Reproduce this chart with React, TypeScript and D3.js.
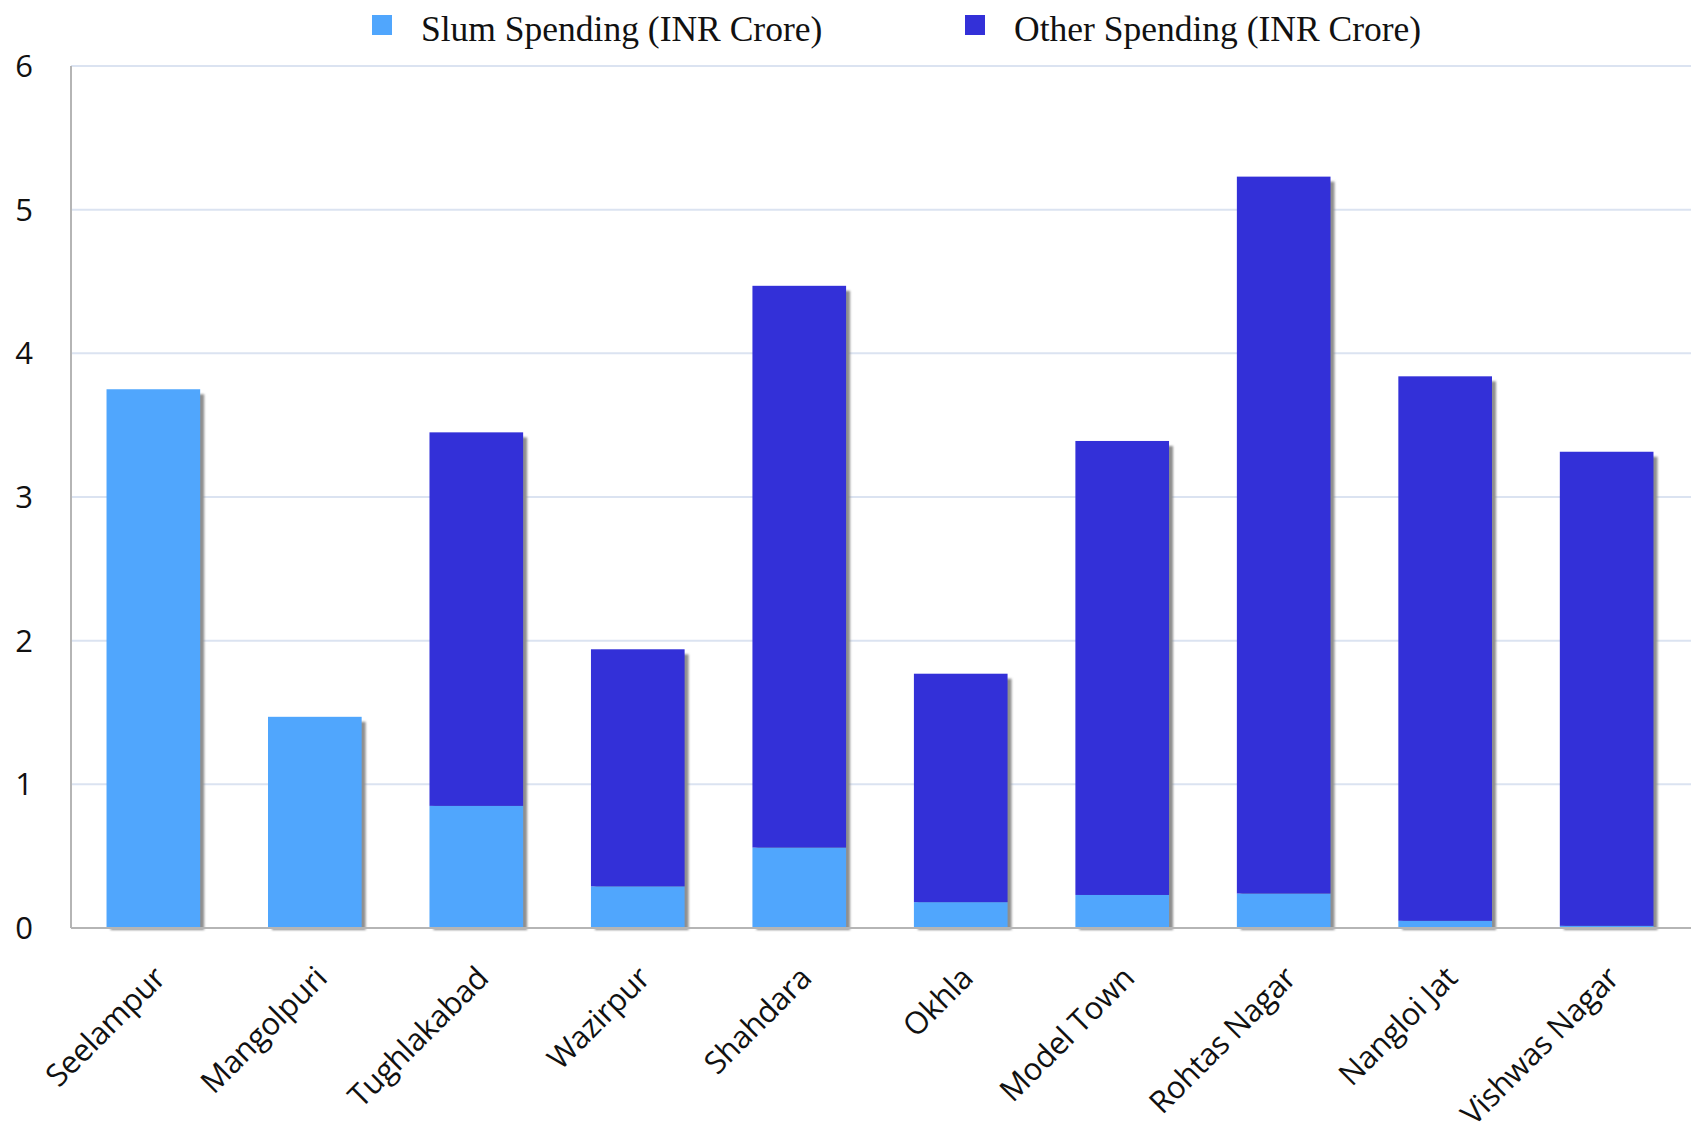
import React, { useEffect, useRef } from 'react';
import * as d3 from 'd3';

const districts: string[] = [
    "Seelampur",
    "Mangolpuri",
    "Tughlakabad",
    "Wazirpur",
    "Shahdara",
    "Okhla",
    "Model Town",
    "Rohtas Nagar",
    "Nangloi Jat",
    "Vishwas Nagar",
];
const slumSpending: number[] = [3.75, 1.47, 0.85, 0.29, 0.56, 0.18, 0.23, 0.24, 0.05, 0.015];
const otherSpending: number[] = [0, 0, 2.6, 1.65, 3.91, 1.59, 3.16, 4.99, 3.79, 3.3];
const yTicks: number[] = [0, 1, 2, 3, 4, 5, 6];
const seriesNames: string[] = ["Slum Spending (INR Crore)", "Other Spending (INR Crore)"];
const seriesColors: string[] = ["#50a6fd", "#3330d8"];

const App: React.FC = () => {
    const ref = useRef<SVGSVGElement | null>(null);

    useEffect(() => {
        const node = ref.current;
        if (!node) return;
        const width = 1691;
        const height = 1133;
        const margin = { top: 66, right: 2, bottom: 205, left: 71 };

        const svg = d3.select(node);
        svg.selectAll("*").remove();

        const x = d3
            .scaleBand<string>()
            .domain(districts)
            .range([margin.left, margin.left + 161.8 * districts.length])
            .paddingInner(0.42)
            .paddingOuter(0.22);

        const y = d3
            .scaleLinear()
            .domain([0, 6])
            .range([height - margin.bottom, margin.top]);

        const defs = svg.append("defs");
        defs.append("filter")
            .attr("id", "shadowBlur")
            .append("feGaussianBlur")
            .attr("stdDeviation", 1.2);

        // grid lines
        svg.append("g")
            .selectAll("line")
            .data(yTicks.filter((t) => t > 0))
            .enter()
            .append("line")
            .attr("x1", margin.left)
            .attr("x2", width)
            .attr("y1", (d) => y(d))
            .attr("y2", (d) => y(d))
            .attr("stroke", "#dbe3f1")
            .attr("stroke-width", 2);

        // y tick labels
        svg.append("g")
            .selectAll("text")
            .data(yTicks)
            .enter()
            .append("text")
            .attr("x", 33)
            .attr("y", (d) => y(d))
            .attr("dy", "0.36em")
            .attr("text-anchor", "end")
            .style("font-family", "'Open Sans', sans-serif")
            .style("font-size", "31px")
            .style("fill", "#111")
            .text((d) => d);

        const stacked = districts.map((name, i) => ({
            name,
            slum: slumSpending[i],
            other: otherSpending[i],
            total: slumSpending[i] + otherSpending[i],
        }));

        // shadows
        svg.append("g")
            .selectAll("rect")
            .data(stacked)
            .enter()
            .append("rect")
            .attr("x", (d) => (x(d.name) as number) + 4)
            .attr("y", (d) => y(d.total) + 5)
            .attr("width", x.bandwidth())
            .attr("height", (d) => y(0) - y(d.total) - 3)
            .attr("fill", "#8f8f8f")
            .attr("filter", "url(#shadowBlur)");

        // slum part
        svg.append("g")
            .selectAll("rect")
            .data(stacked)
            .enter()
            .append("rect")
            .attr("x", (d) => x(d.name) as number)
            .attr("y", (d) => y(d.slum))
            .attr("width", x.bandwidth())
            .attr("height", (d) => y(0) - y(d.slum))
            .attr("fill", seriesColors[0]);

        // other part
        svg.append("g")
            .selectAll("rect")
            .data(stacked.filter((d) => d.other > 0))
            .enter()
            .append("rect")
            .attr("x", (d) => x(d.name) as number)
            .attr("y", (d) => y(d.total))
            .attr("width", x.bandwidth())
            .attr("height", (d) => y(d.slum) - y(d.total))
            .attr("fill", seriesColors[1]);

        // axis lines
        svg.append("line")
            .attr("x1", margin.left)
            .attr("x2", margin.left)
            .attr("y1", margin.top)
            .attr("y2", y(0))
            .attr("stroke", "#b5b5b5")
            .attr("stroke-width", 2);
        svg.append("line")
            .attr("x1", margin.left)
            .attr("x2", width)
            .attr("y1", y(0))
            .attr("y2", y(0))
            .attr("stroke", "#b5b5b5")
            .attr("stroke-width", 2);

        // x labels, rotated
        svg.append("g")
            .selectAll("text")
            .data(districts)
            .enter()
            .append("text")
            .attr("text-anchor", "end")
            .attr("transform", (d) => {
                const cx = (x(d) as number) + x.bandwidth() / 2 + 14;
                return `translate(${cx}, ${y(0) + 52}) rotate(-45)`;
            })
            .style("font-family", "'Open Sans', sans-serif")
            .style("font-size", "31px")
            .style("letter-spacing", "-0.3px")
            .style("fill", "#111")
            .text((d) => d);

        // legend
        const legendX = [372, 965];
        const legend = svg.append("g");
        seriesNames.forEach((name, i) => {
            legend.append("rect")
                .attr("x", legendX[i])
                .attr("y", 15)
                .attr("width", 20)
                .attr("height", 20)
                .attr("fill", seriesColors[i]);
            legend.append("text")
                .attr("x", legendX[i] + 49)
                .attr("y", 41)
                .style("font-family", "'Liberation Serif', 'Times New Roman', serif")
                .style("font-size", "35.5px")
                .style("fill", "#111")
                .text(name);
        });
    }, []);

    return (
        <div style={{ position: "absolute", left: 0, top: 0, background: "#fff" }}>
            <svg ref={ref} width={1691} height={1133} style={{ display: "block" }} />
        </div>
    );
};

export default App;
